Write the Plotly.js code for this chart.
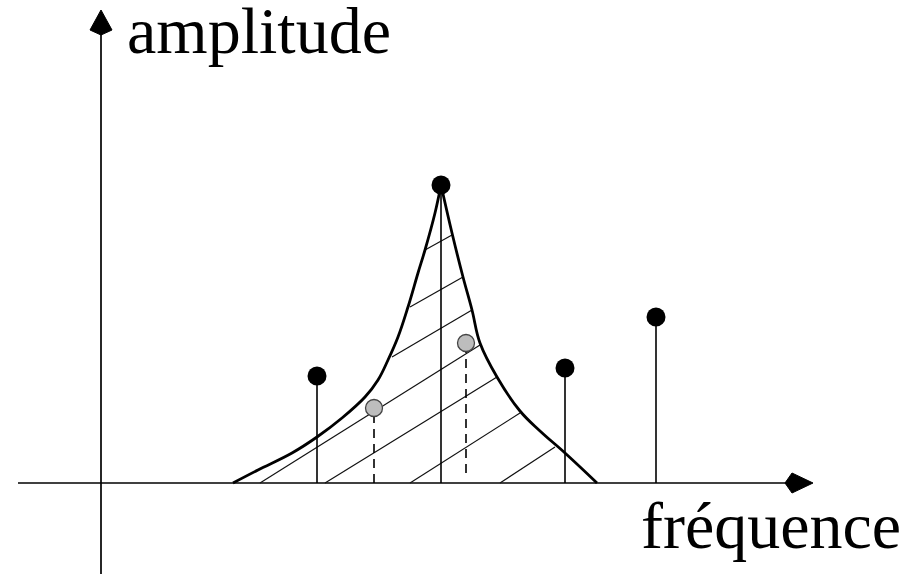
<!DOCTYPE html>
<html>
<head>
<meta charset="utf-8">
<script src="https://cdn.plot.ly/plotly-3.0.1.min.js"></script>
<style>html,body{margin:0;padding:0;background:#fff;}#chart{width:905px;height:574px;}</style>
</head>
<body>
<div id="chart"></div>
<script>
// Schematic units: frequency to the right of the origin, amplitude above the baseline
const stemFreq = [216, 340, 464, 555];
const stemAmp = [107, 298, 115, 166];

const greyFreq = [273, 365];
const greyAmp = [75, 140];
const greyDashBottom = [0, 10];

const curveLeftFreq = [132, 157, 191, 216, 241, 264, 277, 287, 297, 307, 317, 324, 334, 340];
const curveLeftAmp  = [0, 13, 30, 46, 65, 86, 103, 123, 146, 176, 210, 233, 270, 298];
const curveRightFreq = [340, 351, 362, 371, 379, 396, 419, 439, 464, 496];
const curveRightAmp  = [298, 250, 206, 173, 140, 106, 72, 52, 30, 0];

const hatchStartFreq = [324, 309, 291, 159, 224, 309, 399];
const hatchStartAmp  = [233, 176, 126, 0, 0, 0, 0];
const hatchEndFreq   = [351, 362, 371, 379, 396, 419, 454];
const hatchEndAmp    = [248, 206, 173, 138, 106, 70, 36];

const xAxisStart = -83, xAxisEnd = 712;
const yAxisStart = -91, yAxisEnd = 473;

const xLabel = "fréquence";
const yLabel = "amplitude";

// build traces
function segs(x0, y0, x1, y1) {
  const xs = [], ys = [];
  for (let i = 0; i < x0.length; i++) { xs.push(x0[i], x1[i], null); ys.push(y0[i], y1[i], null); }
  return {x: xs, y: ys};
}
const traces = [];
// axes
traces.push({x: [xAxisStart, xAxisEnd - 20], y: [0, 0], mode: 'lines', line: {color: '#000', width: 1.7}, hoverinfo: 'skip'});
traces.push({x: [0, 0], y: [yAxisStart, yAxisEnd - 20], mode: 'lines', line: {color: '#000', width: 1.7}, hoverinfo: 'skip'});
// arrow heads
traces.push({x: [xAxisEnd, xAxisEnd - 21, xAxisEnd - 28, xAxisEnd - 21, xAxisEnd], y: [0, 10, 0, -10, 0],
  mode: 'lines', fill: 'toself', fillcolor: '#000', line: {color: '#000', width: 1}, hoverinfo: 'skip'});
traces.push({x: [0, -11, 0, 11, 0], y: [yAxisEnd, yAxisEnd - 20, yAxisEnd - 25, yAxisEnd - 20, yAxisEnd],
  mode: 'lines', fill: 'toself', fillcolor: '#000', line: {color: '#000', width: 1}, hoverinfo: 'skip'});
// hatching
const h = segs(hatchStartFreq, hatchStartAmp, hatchEndFreq, hatchEndAmp);
traces.push({x: h.x, y: h.y, mode: 'lines', line: {color: '#111', width: 1.2}, hoverinfo: 'skip'});
// curve
traces.push({x: curveLeftFreq, y: curveLeftAmp, mode: 'lines', line: {color: '#000', width: 2.8, shape: 'spline', smoothing: 1.1}, hoverinfo: 'skip'});
traces.push({x: curveRightFreq, y: curveRightAmp, mode: 'lines', line: {color: '#000', width: 2.8, shape: 'spline', smoothing: 1.1}, hoverinfo: 'skip'});
// stems
const s = segs(stemFreq, stemFreq.map(() => 0), stemFreq, stemAmp);
traces.push({x: s.x, y: s.y, mode: 'lines', line: {color: '#000', width: 1.6}, hoverinfo: 'skip'});
// dashed
const d = segs(greyFreq, greyDashBottom, greyFreq, greyAmp);
traces.push({x: d.x, y: d.y, mode: 'lines', line: {color: '#000', width: 1.6, dash: '9px,6px'}, hoverinfo: 'skip'});
// markers
traces.push({x: stemFreq, y: stemAmp, mode: 'markers', marker: {color: '#000', size: 19}, hoverinfo: 'skip'});
traces.push({x: greyFreq, y: greyAmp, mode: 'markers', marker: {color: '#bdbdbd', size: 17, line: {color: '#444', width: 1.3}}, hoverinfo: 'skip'});

const layout = {
  width: 905, height: 574,
  margin: {l: 0, r: 0, t: 0, b: 0},
  paper_bgcolor: '#fff', plot_bgcolor: '#fff',
  showlegend: false,
  xaxis: {range: [-101, 804], visible: false, fixedrange: true},
  yaxis: {range: [-91, 483], visible: false, fixedrange: true},
  annotations: [
    {text: yLabel, xref: 'x', yref: 'y', x: 24, y: 414, xanchor: 'left', yanchor: 'bottom', showarrow: false,
     font: {family: 'Liberation Serif, Times New Roman, serif', size: 66, color: '#000'}},
    {text: xLabel, xref: 'x', yref: 'y', x: 538, y: -81, xanchor: 'left', yanchor: 'bottom', showarrow: false,
     font: {family: 'Liberation Serif, Times New Roman, serif', size: 66, color: '#000'}}
  ]
};
Plotly.newPlot('chart', traces, layout, {staticPlot: true, displayModeBar: false});
</script>
</body>
</html>
